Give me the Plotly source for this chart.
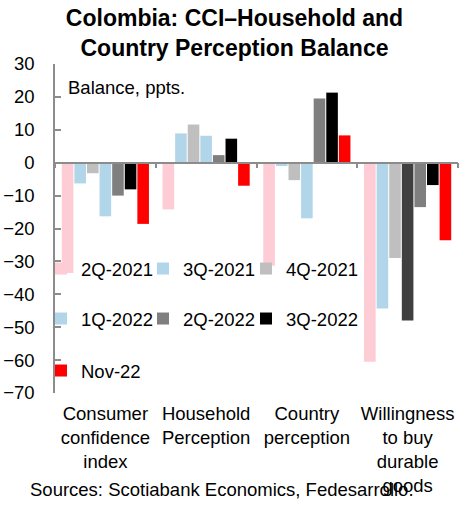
import plotly.graph_objects as go

categories = ["Consumer<br>confidence<br>index", "Household<br>Perception",
              "Country<br>perception", "Willingness<br>to buy<br>durable<br>goods"]
series_names = ["2Q-2021", "3Q-2021", "4Q-2021", "1Q-2022", "2Q-2022", "3Q-2022", "Nov-22"]
v_2q21 = [-33.5, -14.2, -31.3, -60.5]
v_3q21 = [-6.3, 8.9, -1.0, -44.3]
v_4q21 = [-3.2, 11.6, -5.3, -29.0]
v_1q22 = [-16.3, 8.2, -16.9, -48.0]
v_2q22 = [-10.0, 2.3, 19.5, -13.5]
v_3q22 = [-8.1, 7.3, 21.3, -6.8]
v_nov22 = [-18.6, -7.0, 8.3, -23.6]
y_ticks = [30, 20, 10, 0, -10, -20, -30, -40, -50, -60, -70]
y_min, y_max = -70, 30

values = [v_2q21, v_3q21, v_4q21, v_1q22, v_2q22, v_3q22, v_nov22]
PINK = "#FDCCD5"
LBLUE = "#B2D6E9"
LGRAY = "#BFBFBF"
MGRAY = "#7F7F7F"
DGRAY = "#404040"
colors = [PINK, LBLUE, LGRAY, [LBLUE, LBLUE, LBLUE, DGRAY], MGRAY, "#000000", "#FF0000"]

FONT = "Liberation Sans, Arial, sans-serif"
FS = 18.5
AXIS_COLOR = "#8C8C8C"

W, H = 469, 506
ML, MR, MT, MB = 55, 11, 64, 113
PW, PH = W - ML - MR, H - MT - MB

# legend grid: 3 columns x 3 rows (pixel positions of text start / row centre)
leg_cols_px = [81, 183, 286]
leg_rows_px = [269, 319, 371]

fig = go.Figure()
legend_layout = {}
for i, (name, vals, col) in enumerate(zip(series_names, values, colors)):
    key = "legend" if i == 0 else f"legend{i + 1}"
    fig.add_trace(go.Bar(x=categories, y=vals, name=name, marker_color=col,
                         marker_line_width=0, legend=key))
    r, c = divmod(i, 3)
    legend_layout[key] = dict(
        x=(leg_cols_px[c] - 40 - ML) / PW, y=(H - MB - leg_rows_px[r]) / PH,
        xanchor="left", yanchor="middle", orientation="h",
        bgcolor="rgba(0,0,0,0)", borderwidth=0,
        font=dict(family=FONT, size=FS, color="#000"), itemclick=False)

# invisible trace carrying the zero-line axis with boundary ticks
fig.add_trace(go.Scatter(x=categories, y=[None] * len(categories), xaxis="x2",
                         showlegend=False, hoverinfo="skip", mode="markers"))

zero_pos = (0 - y_min) / (y_max - y_min)

fig.update_layout(
    width=W, height=H,
    margin=dict(l=ML, r=MR, t=MT, b=MB, autoexpand=False),
    paper_bgcolor="white", plot_bgcolor="white",
    font=dict(family=FONT, size=FS, color="#000"),
    barmode="group", bargap=0.125, bargroupgap=0.08,
    title=dict(text="<b>Colombia: CCI–Household and<br>Country Perception Balance</b>",
               x=0.5, xref="container", xanchor="center",
               y=0.949, yref="container", yanchor="top",
               font=dict(family=FONT, size=23, color="#000")),
    xaxis=dict(type="category", range=[-0.5, 3.5], showline=False, ticks="",
               showgrid=False, zeroline=False, tickfont=dict(size=FS),
               ticklabelstandoff=7, automargin=False),
    xaxis2=dict(type="category", overlaying="x", anchor="free", position=zero_pos,
                range=[-0.5, 3.5], showline=True, linecolor=AXIS_COLOR, linewidth=1.5,
                ticks="outside", tickson="boundaries", ticklen=5, tickwidth=1.5,
                tickcolor=AXIS_COLOR, showticklabels=False, showgrid=False, side="bottom",
                automargin=False),
    yaxis=dict(range=[y_min, y_max], tickvals=y_ticks, showgrid=False, zeroline=False,
               showline=True, linecolor=AXIS_COLOR, linewidth=1.5,
               ticks="inside", ticklen=6, tickwidth=1.5, tickcolor=AXIS_COLOR,
               ticklabelstandoff=15, tickfont=dict(size=FS), automargin=False),
    annotations=[
        dict(text="Balance, ppts.", xref="paper", yref="paper", x=(66 - ML) / PW,
             y=(H - MB - 87) / PH, xanchor="left", yanchor="middle", showarrow=False,
             font=dict(family=FONT, size=FS, color="#000")),
        dict(text="Sources: Scotiabank Economics, Fedesarrollo.", xref="paper",
             yref="paper", x=(28 - ML) / PW, y=(H - MB - 489) / PH, xanchor="left",
             yanchor="middle", showarrow=False,
             font=dict(family=FONT, size=FS, color="#000")),
    ],
    **legend_layout,
)

fig.write_html("out.html", config={"displayModeBar": False},
               post_script="document.body.style.margin='0';")
